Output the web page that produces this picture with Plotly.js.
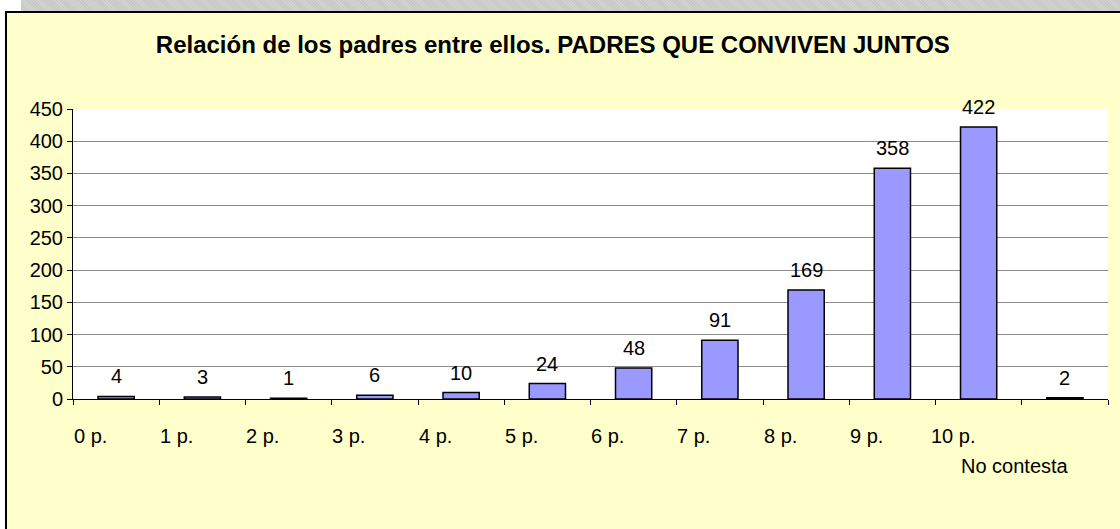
<!DOCTYPE html>
<html>
<head>
<meta charset="utf-8">
<script src="https://cdn.plot.ly/plotly-3.0.1.min.js"></script>
<style>
    body { margin: 0; background: #ffffff; width: 1120px; height: 529px; overflow: hidden; position: relative; }
    #band {
        position: absolute; left: 21px; top: 0; width: 1099px; height: 11px;
        background: repeating-linear-gradient(45deg, #c8c8c8 0 1px, #d2d2d2 1px 2px);
    }
    #frame {
        position: absolute; left: 5px; top: 11px; width: 1120px; height: 525px;
        border-left: 2px solid #000; border-top: 2px solid #000; background: #ffffcc;
    }
    #chart { width: 1113px; height: 516px; }
</style>
</head>
<body>
<div id="band"></div>
<div id="frame"><div id="chart"></div></div>

<script>
    // Category labels and counts
    var categories = ['0 p.', '1 p.', '2 p.', '3 p.', '4 p.', '5 p.', '6 p.', '7 p.', '8 p.', '9 p.', '10 p.', 'No contesta'];
    var counts = [4, 3, 1, 6, 10, 24, 48, 91, 169, 358, 422, 2];
    var yTicks = [0, 50, 100, 150, 200, 250, 300, 350, 400, 450];

    var xPos = categories.map(function(c, i) { return i; });
    var boundaries = [];
    for (var b = 0; b <= categories.length; b++) boundaries.push(b - 0.5);

    var trace = {
        x: xPos,
        y: counts,
        type: 'bar',
        width: 0.42,
        marker: {
            color: '#9999ff',
            line: { color: '#000000', width: 1.5 }
        },
        hoverinfo: 'skip'
    };

    var font = { family: 'Liberation Sans, Arial, sans-serif', size: 20, color: '#000000' };

    // value labels above each bar
    var annotations = counts.map(function(v, i) {
        return {
            x: i, y: v, xref: 'x', yref: 'y',
            text: String(v), showarrow: false,
            yanchor: 'bottom', yshift: 7, font: font
        };
    });

    // category labels (Excel draws them offset to the left, last one staggered)
    categories.forEach(function(c, i) {
        var last = i === categories.length - 1;
        annotations.push({
            x: i, y: 0, xref: 'x', yref: 'paper',
            text: c, showarrow: false,
            xanchor: 'center', yanchor: 'top',
            xshift: last ? -50 : -26,
            yshift: last ? -54 : -24,
            font: font
        });
    });

    var layout = {
        width: 1113,
        height: 516,
        margin: { t: 96, r: 12, b: 130, l: 66 },
        paper_bgcolor: '#ffffcc',
        plot_bgcolor: '#ffffff',
        showlegend: false,
        title: {
            text: '<b>Relación de los padres entre ellos. PADRES QUE CONVIVEN JUNTOS</b>',
            x: 0.4904, xanchor: 'center',
            y: 0.938, yanchor: 'middle',
            font: { family: 'Liberation Sans, Arial, sans-serif', size: 24, color: '#000000' }
        },
        xaxis: {
            range: [-0.5, categories.length - 0.5],
            tickmode: 'array',
            tickvals: boundaries,
            showticklabels: false,
            ticks: 'outside',
            ticklen: 5,
            tickcolor: '#000000',
            showgrid: false,
            zeroline: false,
            showline: true,
            linecolor: '#000000',
            linewidth: 1
        },
        yaxis: {
            range: [0, 450],
            tickmode: 'array',
            tickvals: yTicks,
            ticks: 'outside',
            ticklen: 5,
            tickcolor: '#000000',
            tickfont: font,
            showgrid: true,
            gridcolor: '#8c8c8c',
            gridwidth: 1,
            zeroline: false,
            showline: true,
            linecolor: '#000000',
            linewidth: 1
        },
        annotations: annotations
    };

    Plotly.newPlot('chart', [trace], layout, { displayModeBar: false, staticPlot: true });
</script>
</body>
</html>
